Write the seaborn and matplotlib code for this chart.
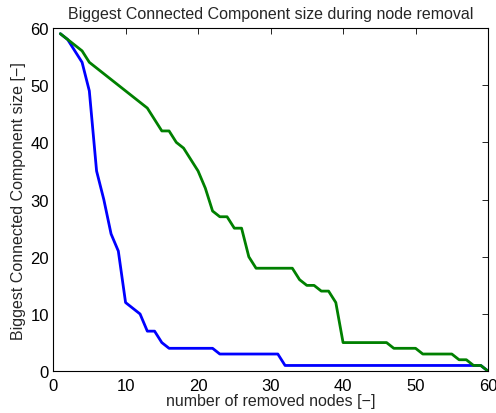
import numpy as np
import pandas as pd
import seaborn as sns
import matplotlib
matplotlib.use("Agg")
import matplotlib.pyplot as plt

# number of removed nodes
removed = list(range(1, 61))

# biggest component size, two removal strategies
bcc_blue = [59, 58, 56, 54, 49, 35, 30, 24, 21, 12,
            11, 10, 7, 7, 5, 4, 4, 4, 4, 4,
            4, 4, 3, 3, 3, 3, 3, 3, 3, 3,
            3, 1, 1, 1, 1, 1, 1, 1, 1, 1,
            1, 1, 1, 1, 1, 1, 1, 1, 1, 1,
            1, 1, 1, 1, 1, 1, 1, 1, 1, 0]
bcc_green = [59, 58, 57, 56, 54, 53, 52, 51, 50, 49,
             48, 47, 46, 44, 42, 42, 40, 39, 37, 35,
             32, 28, 27, 27, 25, 25, 20, 18, 18, 18,
             18, 18, 18, 16, 15, 15, 14, 14, 12, 5,
             5, 5, 5, 5, 5, 5, 4, 4, 4, 4,
             3, 3, 3, 3, 3, 2, 2, 1, 1, 0]

df = pd.DataFrame({"removed": removed, "blue": bcc_blue, "green": bcc_green})

sns.set_style("white")
plt.rcParams["font.family"] = ["Liberation Sans", "DejaVu Sans"]

fig = plt.figure(figsize=(4.96, 4.14), dpi=100)
ax = fig.add_axes([0.107, 0.101, 0.877, 0.829])

sns.lineplot(data=df, x="removed", y="blue", color="#0000ff", linewidth=2, ax=ax)
sns.lineplot(data=df, x="removed", y="green", color="#008000", linewidth=2, ax=ax)

ax.set_xlim(0, 60)
ax.set_ylim(0, 60)
ax.set_xticks(range(0, 61, 10))
ax.set_yticks(range(0, 61, 10))
ax.tick_params(direction="in", top=True, right=True, length=4, width=0.6,
               labelsize=12, colors="black")
ax.tick_params(axis="x", pad=5)
ax.tick_params(axis="y", pad=3)
for s in ax.spines.values():
    s.set_color("black")
    s.set_linewidth(0.8)

ax.set_xlabel("number of removed nodes [\u2212]", fontsize=11.5, labelpad=0)
ax.set_ylabel("Biggest Connected Component size [\u2212]", fontsize=11.5, labelpad=3)
ax.set_title("Biggest Connected Component size during node removal", fontsize=11.5, pad=7)

fig.savefig("out.png", dpi=100)
